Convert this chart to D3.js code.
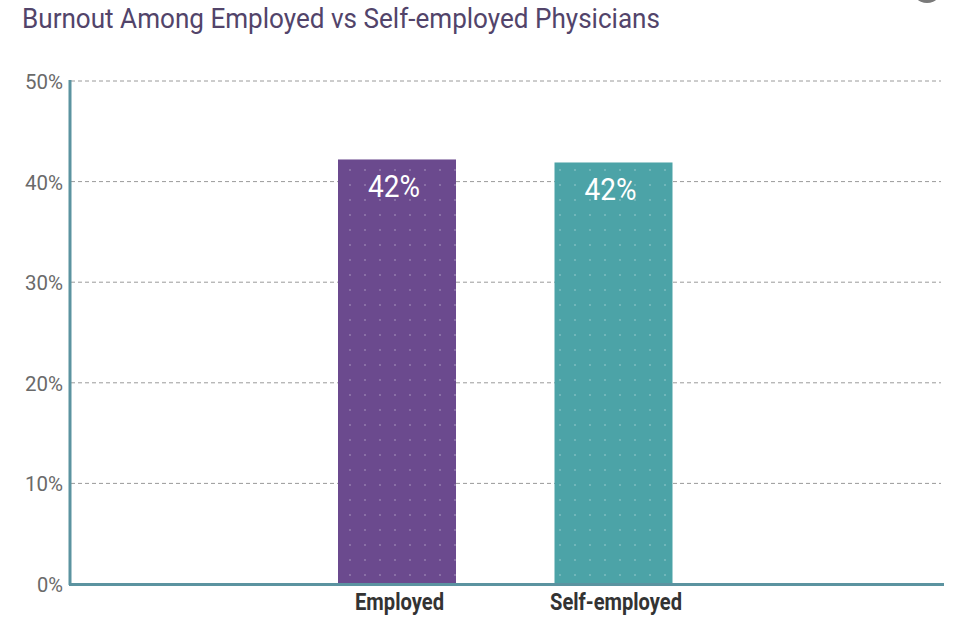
<!DOCTYPE html>
<html><head><meta charset="utf-8">
<script src="https://cdn.jsdelivr.net/npm/d3@7"></script>
<style>body{margin:0;background:#fff;}svg{display:block;}</style>
</head><body>
<svg id="c" width="978" height="634"></svg>
<script>
const title = "Burnout Among Employed vs Self-employed Physicians";
const categories = ["Employed", "Self-employed"];
const values = [42.2, 41.9];
const valueLabels = ["42%", "42%"];
const colors = ["#6b4a8e", "#4ca3a7"];
const yTicks = [0, 10, 20, 30, 40, 50];

const svg = d3.select("#c");
const x0 = 71, yTop = 81, yBot = 584;
const y = d3.scaleLinear().domain([0, 50]).range([yBot, yTop]);
const x = d3.scalePoint().domain(categories).range([397, 613.5]);
const bw = 118;

// decorative partial circle top right
svg.append("ellipse").attr("cx", 927).attr("cy", -14).attr("rx", 16).attr("ry", 17).attr("fill", "#7a7a7a");

svg.append("text").attr("x", 22).attr("y", 28).attr("font-family", "Roboto, sans-serif")
  .attr("font-size", 27).attr("fill", "#52446a").attr("textLength", 638).attr("lengthAdjust", "spacingAndGlyphs").text(title);

// gridlines
svg.append("g").selectAll("line").data(yTicks.filter(d => d > 0)).join("line")
  .attr("x1", x0).attr("x2", 941).attr("y1", d => y(d)).attr("y2", d => y(d))
  .attr("stroke", "#9a9a9a").attr("stroke-width", 1).attr("stroke-dasharray", "4,3");

// tick labels
svg.append("g").selectAll("text").data(yTicks).join("text")
  .attr("x", 63).attr("y", d => y(d) + 8).attr("text-anchor", "end")
  .attr("font-family", "Roboto, sans-serif").attr("font-size", 21).attr("fill", "#6a6a6a")
  .attr("textLength", d => d === 0 ? 26 : 38).attr("lengthAdjust", "spacingAndGlyphs")
  .text(d => d + "%");

// bars
const pat = svg.append("defs");
categories.forEach((c, i) => {
  const p = pat.append("pattern").attr("id", "p" + i).attr("patternUnits", "userSpaceOnUse")
    .attr("width", 15).attr("height", 15);
  p.append("rect").attr("width", 15).attr("height", 15).attr("fill", colors[i]);
  p.append("circle").attr("cx", 5).attr("cy", 5).attr("r", 0.9).attr("fill", "rgba(255,255,255,0.3)");
});

svg.append("g").selectAll("rect").data(categories).join("rect")
  .attr("x", d => x(d) - bw / 2).attr("width", bw)
  .attr("y", (d, i) => y(values[i])).attr("height", (d, i) => yBot - y(values[i]))
  .attr("fill", (d, i) => `url(#p${i})`);

svg.append("g").selectAll("text").data(categories).join("text")
  .attr("x", d => x(d) - 3).attr("y", (d, i) => y(values[i]) + 38)
  .attr("text-anchor", "middle").attr("font-family", "Roboto, sans-serif").attr("font-size", 31)
  .attr("fill", "#fff").attr("textLength", 52).attr("lengthAdjust", "spacingAndGlyphs")
  .text((d, i) => valueLabels[i]);

// axes
svg.append("line").attr("x1", 70).attr("x2", 70).attr("y1", 80).attr("y2", 585)
  .attr("stroke", "#5b93a0").attr("stroke-width", 3);
svg.append("line").attr("x1", 69).attr("x2", 944).attr("y1", 584.5).attr("y2", 584.5)
  .attr("stroke", "#5b93a0").attr("stroke-width", 3);

// category labels
svg.append("g").selectAll("text").data(categories).join("text")
  .attr("x", d => x(d) + 2.5).attr("y", 610)
  .attr("text-anchor", "middle").attr("font-family", "Roboto, sans-serif").attr("font-size", 23)
  .attr("font-weight", "bold").attr("fill", "#333")
  .attr("textLength", d => d === "Employed" ? 89 : 132).attr("lengthAdjust", "spacingAndGlyphs")
  .text(d => d);
</script>
</body></html>
